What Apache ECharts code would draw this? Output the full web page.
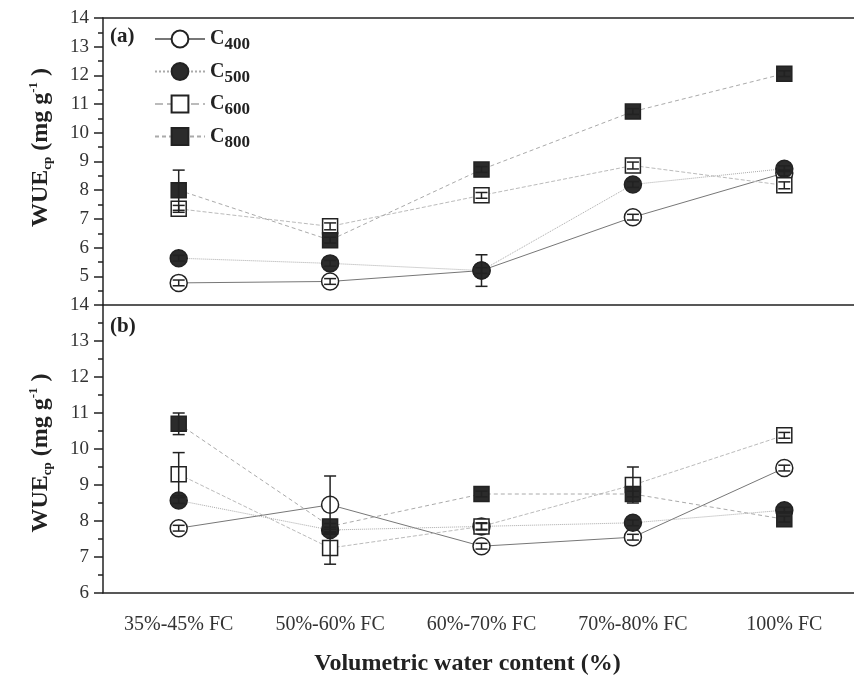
<!DOCTYPE html>
<html>
<head>
<meta charset="utf-8">
<script src="https://cdn.jsdelivr.net/npm/echarts@6/dist/echarts.min.js"></script>
<style>
  html, body { margin: 0; padding: 0; background: #fff; }
  #main { width: 854px; height: 681px; }
</style>
</head>
<body>
<div id="main"></div>
<script>
// categories (x axis)
var categories = ['35%-45% FC', '50%-60% FC', '60%-70% FC', '70%-80% FC', '100% FC'];

// panel (a) values and error bars
var a_c400 = [4.77, 4.82, 5.2, 7.06, 8.6];
var a_c500 = [5.63, 5.45, 5.2, 8.2, 8.75];
var a_c600 = [7.35, 6.74, 7.82, 8.86, 8.17];
var a_c800 = [8.0, 6.26, 8.72, 10.74, 12.06];
var a_e400 = [0.1, 0.1, 0.1, 0.1, 0.1];
var a_e500 = [0.1, 0.1, 0.55, 0.1, 0.1];
var a_e600 = [0.12, 0.12, 0.1, 0.12, 0.12];
var a_e800 = [0.7, 0.1, 0.1, 0.1, 0.1];

// panel (b) values and error bars
var b_c400 = [7.8, 8.45, 7.3, 7.55, 9.47];
var b_c500 = [8.57, 7.75, 7.85, 7.95, 8.3];
var b_c600 = [9.3, 7.25, 7.85, 9.0, 10.38];
var b_c800 = [10.7, 7.85, 8.75, 8.75, 8.05];
var b_e400 = [0.08, 0.8, 0.08, 0.08, 0.08];
var b_e500 = [0.08, 0.08, 0.08, 0.08, 0.08];
var b_e600 = [0.6, 0.45, 0.1, 0.5, 0.08];
var b_e800 = [0.3, 0.08, 0.08, 0.08, 0.08];

var serif = '"Liberation Serif", "DejaVu Serif", serif';
var ink = '#222';

// marker / line look of each series
var looks = {
  C400: { symbol: 'circle', size: 17, fill: '#fff', line: { color: '#777', width: 1, type: 'solid' } },
  C500: { symbol: 'circle', size: 17, fill: '#2b2b2b', line: { color: '#aaa', width: 1, type: 'dotted' } },
  C600: { symbol: 'rect', size: 15, fill: '#fff', line: { color: '#bbb', width: 1, type: 'dashed' } },
  C800: { symbol: 'rect', size: 15, fill: '#2b2b2b', line: { color: '#aaa', width: 1, type: [4, 3] } }
};

function lineSeries(name, vals, xi, yi) {
  var lk = looks[name];
  return {
    name: name, type: 'line', xAxisIndex: xi, yAxisIndex: yi,
    data: vals, symbol: lk.symbol, symbolSize: lk.size, z: 3,
    lineStyle: lk.line,
    itemStyle: { color: lk.fill, borderColor: ink, borderWidth: 1.5 },
    emphasis: { disabled: true }
  };
}

function errSeries(vals, errs, xi, yi) {
  return {
    name: 'err', type: 'custom', xAxisIndex: xi, yAxisIndex: yi, z: 4, silent: true,
    data: vals.map(function (v, i) { return [i, v - errs[i], v + errs[i]]; }),
    encode: { x: 0, y: [1, 2] },
    renderItem: function (params, api) {
      var lo = api.coord([api.value(0), api.value(1)]);
      var hi = api.coord([api.value(0), api.value(2)]);
      var w = 6;
      var st = { stroke: ink, lineWidth: 1.5 };
      return {
        type: 'group',
        children: [
          { type: 'line', shape: { x1: lo[0], y1: lo[1], x2: hi[0], y2: hi[1] }, style: st },
          { type: 'line', shape: { x1: lo[0] - w, y1: lo[1], x2: lo[0] + w, y2: lo[1] }, style: st },
          { type: 'line', shape: { x1: hi[0] - w, y1: hi[1], x2: hi[0] + w, y2: hi[1] }, style: st }
        ]
      };
    }
  };
}

function xMajor(grid, showLabels) {
  return {
    type: 'category', gridIndex: grid, position: 'bottom', data: categories,
    boundaryGap: true,
    axisLine: { onZero: false, lineStyle: { color: ink, width: 1.5 } },
    axisTick: { alignWithLabel: true, inside: false, length: 9, lineStyle: { color: ink, width: 1.5 } },
    axisLabel: { show: showLabels, margin: 22, fontFamily: serif, fontSize: 20, color: '#333' },
    splitLine: { show: false },
    name: showLabels ? 'Volumetric water content (%)' : '',
    nameLocation: 'middle', nameGap: 59,
    nameTextStyle: { fontFamily: serif, fontWeight: 'bold', fontSize: 24, color: ink, padding: [0, 28, 0, 0] }
  };
}

function xMinor(grid) {
  return {
    type: 'category', gridIndex: grid, position: 'bottom', data: categories,
    boundaryGap: true,
    axisLine: { show: false, onZero: false },
    axisTick: { inside: false, length: 5, lineStyle: { color: ink, width: 1.5 } },
    axisLabel: { show: false },
    splitLine: { show: false }
  };
}

// top border line of panel (a)
function xTopLine(grid) {
  return {
    type: 'category', gridIndex: grid, position: 'top', data: categories,
    axisLine: { onZero: false, lineStyle: { color: ink, width: 1.5 } },
    axisTick: { show: false }, axisLabel: { show: false }, splitLine: { show: false }
  };
}

function yAxis(grid, min, max, hideMin, namePad) {
  return {
    type: 'value', gridIndex: grid, min: min, max: max, interval: 1,
    axisLine: { show: true, lineStyle: { color: ink, width: 1.5 } },
    axisTick: { show: true, inside: false, length: 9, lineStyle: { color: ink, width: 1.5 } },
    minorTick: { show: true, splitNumber: 2, length: 5, lineStyle: { color: ink, width: 1.5 } },
    axisLabel: { showMinLabel: !hideMin, margin: 14, fontFamily: serif, fontSize: 19, color: '#333' },
    splitLine: { show: false },
    name: '{b|WUE}{sub|cp}{b| (mg g}{sup|-1}{b| )}',
    nameLocation: 'middle', nameRotate: 90, nameGap: 48,
    nameTextStyle: {
      color: ink,
      padding: namePad,
      rich: {
        b: { fontFamily: serif, fontWeight: 'bold', fontSize: 24, color: ink },
        sub: { fontFamily: serif, fontWeight: 'bold', fontSize: 13, color: ink, padding: [13, 0, 0, 0] },
        sup: { fontFamily: serif, fontWeight: 'bold', fontSize: 13, color: ink, padding: [0, 0, 15, 0] }
      }
    }
  };
}

var chart = echarts.init(document.getElementById('main'));

var option = {
  backgroundColor: '#fff',
  animation: false,
  grid: [
    { left: 103, top: 18, width: 757, height: 287, outerBoundsMode: 'none' },
    { left: 103, top: 305, width: 757, height: 288, outerBoundsMode: 'none' }
  ],
  xAxis: [xMajor(0, false), xMinor(0), xTopLine(0), xMajor(1, true), xMinor(1)],
  yAxis: [yAxis(0, 4, 14, true, [0, 0, 0, 28]), yAxis(1, 6, 14, false, [0, 8, 0, 0])],
  legend: {
    data: ['C400', 'C500', 'C600', 'C800'],
    orient: 'vertical', left: 149, top: 24,
    itemWidth: 50, itemHeight: 21, itemGap: 8,
    formatter: function (name) { return '{c|C}{s|' + name.slice(1) + '}'; },
    textStyle: {
      rich: {
        c: { fontFamily: serif, fontWeight: 'bold', fontSize: 20, color: ink },
        s: { fontFamily: serif, fontWeight: 'bold', fontSize: 17, color: ink, padding: [12, 0, 0, 0] }
      }
    }
  },
  graphic: [
    { type: 'text', left: 110, top: 26, style: { text: '(a)', font: 'bold 21px ' + serif, fill: ink } },
    { type: 'text', left: 110, top: 316, style: { text: '(b)', font: 'bold 21px ' + serif, fill: ink } }
  ],
  series: [
    lineSeries('C400', a_c400, 0, 0),
    lineSeries('C500', a_c500, 0, 0),
    lineSeries('C600', a_c600, 0, 0),
    lineSeries('C800', a_c800, 0, 0),
    errSeries(a_c400, a_e400, 0, 0),
    errSeries(a_c500, a_e500, 0, 0),
    errSeries(a_c600, a_e600, 0, 0),
    errSeries(a_c800, a_e800, 0, 0),
    lineSeries('C400', b_c400, 3, 1),
    lineSeries('C500', b_c500, 3, 1),
    lineSeries('C600', b_c600, 3, 1),
    lineSeries('C800', b_c800, 3, 1),
    errSeries(b_c400, b_e400, 3, 1),
    errSeries(b_c500, b_e500, 3, 1),
    errSeries(b_c600, b_e600, 3, 1),
    errSeries(b_c800, b_e800, 3, 1)
  ]
};

chart.setOption(option);
</script>
</body>
</html>
